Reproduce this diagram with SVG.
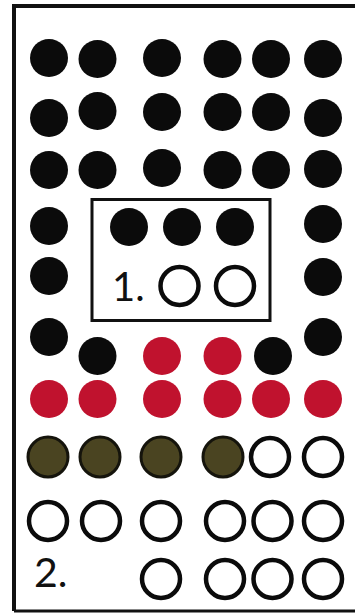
<svg xmlns="http://www.w3.org/2000/svg" width="355" height="613" viewBox="0 0 355 613">
<style>
.b{fill:#0b0b0b}
.r{fill:#c0122e}
.o{fill:#4a4421;stroke:#15140c;stroke-width:3}
.h{fill:none;stroke:#0b0b0b;stroke-width:4.5}
.t{font-family:Lato,"Open Sans",sans-serif;fill:#111}
</style>
<rect x="0" y="0" width="355" height="613" fill="#fff"/>
<g id="frame"><path d="M14 611 V6 H360" fill="none" stroke="#111" stroke-width="4"/><path d="M14 611 H360" fill="none" stroke="#111" stroke-width="3"/></g>
<g id="box1"><rect x="92" y="199.5" width="178" height="121" fill="none" stroke="#111" stroke-width="3"/>
<text class="t" x="112" y="301" font-size="40">1.</text>
<circle class="h" cx="179.5" cy="286" r="19"/><circle class="h" cx="235" cy="286" r="19"/></g>
<g id="black">
<circle class="b" cx="49" cy="58" r="19"/><circle class="b" cx="97.5" cy="59" r="19"/><circle class="b" cx="162" cy="58" r="19"/><circle class="b" cx="222.5" cy="59" r="19"/><circle class="b" cx="271" cy="59" r="19"/><circle class="b" cx="323" cy="59" r="19"/>
<circle class="b" cx="49" cy="118" r="19"/><circle class="b" cx="97.5" cy="111" r="19"/><circle class="b" cx="162" cy="112" r="19"/><circle class="b" cx="222.5" cy="112" r="19"/><circle class="b" cx="271" cy="112" r="19"/><circle class="b" cx="323" cy="118" r="19"/>
<circle class="b" cx="49" cy="170" r="19"/><circle class="b" cx="97.5" cy="170" r="19"/><circle class="b" cx="162" cy="168" r="19"/><circle class="b" cx="222.5" cy="170" r="19"/><circle class="b" cx="271" cy="170" r="19"/><circle class="b" cx="323" cy="169" r="19"/>
<circle class="b" cx="49" cy="226" r="19"/><circle class="b" cx="129" cy="227" r="19"/><circle class="b" cx="182" cy="227" r="19"/><circle class="b" cx="235" cy="227" r="19"/><circle class="b" cx="323" cy="224" r="19"/>
<circle class="b" cx="49" cy="276" r="19"/><circle class="b" cx="323" cy="277" r="19"/>
<circle class="b" cx="49" cy="337" r="19"/><circle class="b" cx="97.5" cy="356" r="19"/><circle class="b" cx="273" cy="356" r="19"/><circle class="b" cx="323" cy="337" r="19"/>
</g>
<g id="red">
<circle class="r" cx="162" cy="356" r="19"/><circle class="r" cx="222.5" cy="356" r="19"/>
<circle class="r" cx="49" cy="399" r="19"/><circle class="r" cx="97.5" cy="399" r="19"/><circle class="r" cx="162" cy="399" r="19"/><circle class="r" cx="222.5" cy="399" r="19"/><circle class="r" cx="271" cy="399" r="19"/><circle class="r" cx="323" cy="399" r="19"/>
</g>
<g id="olive">
<circle class="o" cx="48" cy="457" r="20"/><circle class="o" cx="100" cy="457" r="20"/><circle class="o" cx="161" cy="457" r="20"/><circle class="o" cx="223" cy="457" r="20"/>
</g>
<g id="hollow">
<circle class="h" cx="270" cy="457" r="19"/><circle class="h" cx="323" cy="457" r="19"/>
<circle class="h" cx="48" cy="521" r="19"/><circle class="h" cx="101" cy="521" r="19"/><circle class="h" cx="161" cy="521" r="19"/><circle class="h" cx="225" cy="521" r="19"/><circle class="h" cx="272.5" cy="521" r="19"/><circle class="h" cx="323" cy="521" r="19"/>
<circle class="h" cx="161" cy="579" r="19"/><circle class="h" cx="225" cy="579" r="19"/><circle class="h" cx="272.5" cy="579" r="19"/><circle class="h" cx="323" cy="579" r="19"/>
</g>
<g id="label2"><text class="t" x="34" y="587" font-size="41">2.</text></g>
</svg>
